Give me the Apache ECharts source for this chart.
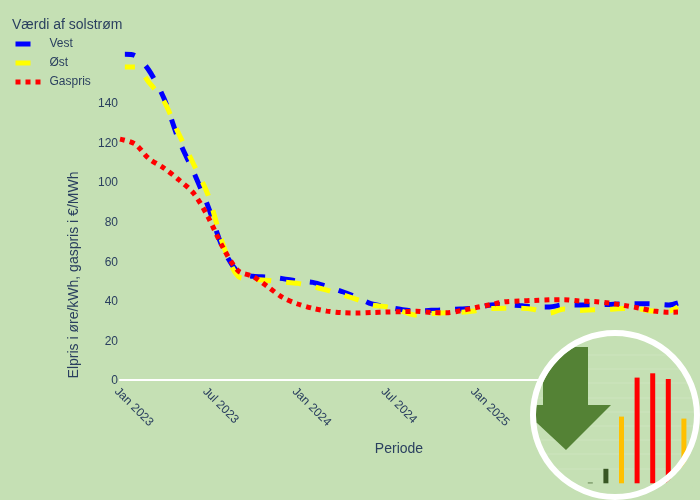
<!DOCTYPE html>
<html>
<head>
<meta charset="utf-8">
<style>html,body{margin:0;padding:0;background:#c5e0b4}</style>
<script src="https://cdn.jsdelivr.net/npm/echarts@6/dist/echarts.min.js"></script>
</head>
<body>
<div id="main" style="width:700px;height:500px"></div>
<script>
var months = ['2023-01-01','2023-02-01','2023-03-01','2023-04-01','2023-05-01','2023-06-01','2023-07-01','2023-08-01','2023-09-01','2023-10-01','2023-11-01','2023-12-01',
  '2024-01-01','2024-02-01','2024-03-01','2024-04-01','2024-05-01','2024-06-01','2024-07-01','2024-08-01','2024-09-01','2024-10-01','2024-11-01','2024-12-01',
  '2025-01-01','2025-02-01','2025-03-01','2025-04-01','2025-05-01','2025-06-01','2025-07-01','2025-08-01','2025-09-01','2025-10-01','2025-11-01','2025-12-01',
  '2026-01-01','2026-02-01','2026-02-20'];
var vest = [164.6,163.9,156.6,142.4,121.7,105.1,87.6,66.2,54.3,52.4,52.0,51.2,
  50.0,49.3,47.2,44.7,41.9,38.4,37.0,35.6,34.8,35.2,35.4,35.9,
  36.4,37.9,38.1,37.6,36.9,36.9,38.0,37.9,37.9,38.2,38.5,38.5,
  38.4,37.9,38.9];
var oest = [158.1,158.1,150.5,140.9,124.7,109.1,93.4,68.2,52.3,51.0,50.3,49.5,
  48.8,47.2,45.4,43.1,40.7,37.9,37.0,34.8,32.8,33.6,34.0,34.2,
  35.0,36.1,36.2,36.2,35.6,33.8,35.9,35.1,35.5,35.7,36.1,35.9,
  34.8,34.8,36.9];
var gas = [121.7,119.2,111.9,107.1,101.3,94.4,82.3,66.7,55.1,52.3,47.0,41.7,
  38.4,36.2,34.8,34.0,33.8,34.1,34.3,34.5,34.7,34.1,34.0,35.0,
  36.6,38.1,39.5,39.9,40.2,40.5,40.6,39.9,39.6,38.9,37.7,36.4,
  34.9,34.2,34.3];
var elStart = '2023-01-11'; // el-linjerne starter lidt efter gas

var xTickDates = ['2023-01-01','2023-07-01','2024-01-01','2024-07-01','2025-01-01'];
var xTickLabels = ['Jan 2023','Jul 2023','Jan 2024','Jul 2024','Jan 2025'];
var yTicks = [0,20,40,60,80,100,120,140];

// lille billede nederst til hoejre
var insetCats = ['a','b','c','d','e','f','g'];
var insetValues = [0.7,14.5,66.7,105.7,110,104.3,64.7];
var insetColors = ['#385723','#385723','#ffc000','#ff0000','#ff0000','#ff0000','#ffc000'];
var insetGridRows = [355,369,383,398,412,426,440,454,469];

var bg = '#c5e0b4', ink = '#2a3f5f', font = 'Liberation Sans';
var cx = 615, cy = 415, rIn = 79;

function ms(d){ return new Date(d).getTime(); }
function pairs(dates, values){
  return values.map(function(v, i){ return [ms(dates[i]), v]; });
}
var elDates = [elStart].concat(months.slice(1));
var xTickValues = xTickDates.map(ms);

// pil klippet af cirklen
function arc(a0, a1){
  var pts = [];
  for (var i = 0; i <= 24; i++){
    var a = a0 + (a1 - a0) * i / 24;
    pts.push([cx + rIn * Math.cos(a), cy + rIn * Math.sin(a)]);
  }
  return pts;
}
function angle(x, y){ return Math.atan2(y - cy, x - cx); }
function norm(a){ return a < 0 ? a + 2 * Math.PI : a; }
var arrow = [[588,347],[588,405],[611,405],[566,450],[537,423]]
  .concat(arc(norm(angle(537,423)), norm(angle(536.3,405))))
  .concat([[543,405],[543,382.2]])
  .concat(arc(norm(angle(543,382.2)), norm(angle(575,347))));

var graphics = [
  {type:'circle', z:10, silent:true, shape:{cx:cx, cy:cy, r:82}, style:{fill:bg}},
  {type:'polygon', z:25, silent:true, shape:{points:arrow}, style:{fill:'#548235'}},
  {type:'sector', z:29, silent:true, shape:{cx:cx, cy:cy, r0:85, r:106, startAngle:0, endAngle:Math.PI/2}, style:{fill:bg}},
  {type:'circle', z:30, silent:true, shape:{cx:cx, cy:cy, r:82}, style:{fill:null, stroke:'#ffffff', lineWidth:6}},
  {type:'text', z:5, silent:true, rotation:Math.PI/2, x:74, y:275,
    style:{text:'Elpris i øre/kWh, gaspris i €/MWh', fill:ink, font:'14px "Liberation Sans"', align:'center', verticalAlign:'middle'}}
];
insetGridRows.forEach(function(y){
  var dx = Math.sqrt(rIn * rIn - (y - cy) * (y - cy));
  graphics.push({type:'line', z:11, silent:true, shape:{x1:cx - dx, y1:y, x2:cx + dx, y2:y}, style:{stroke:'#cde4be', lineWidth:1}});
});

var myChart = echarts.init(document.getElementById('main'));

var option = {
  animation: false,
  backgroundColor: bg,
  textStyle: {fontFamily: font},
  title: {
    text: 'Værdi af solstrøm', left: 7, top: 13,
    textStyle: {fontFamily: font, fontSize: 14, fontWeight: 'normal', color: ink}
  },
  legend: {
    orient: 'vertical', left: 13, top: 38,
    itemWidth: 25, itemHeight: 14, itemGap: 7, padding: 0,
    data: ['Vest','Øst','Gaspris'],
    lineStyle: {width: 5, dashOffset: 0},
    itemStyle: {opacity: 0},
    textStyle: {fontFamily: font, fontSize: 12, color: ink, padding: [0,0,0,4]}
  },
  grid: [
    {left: 120, right: 22, top: 50, bottom: 120},
    {left: 582.5, width: 109.2, top: 363.3, height: 120}
  ],
  xAxis: [
    {
      type: 'value', gridIndex: 0,
      min: ms('2023-01-01'), max: ms('2026-02-20'), scale: true,
      name: 'Periode', nameLocation: 'middle', nameGap: 62,
      nameTextStyle: {fontFamily: font, fontSize: 14, color: ink},
      axisLine: {show: true, onZero: true, lineStyle: {color: '#ffffff', width: 2}},
      axisTick: {show: false},
      splitLine: {show: false},
      axisLabel: {
        rotate: -45, margin: 6,
        hideOverlap: false, showMinLabel: true,
        customValues: xTickValues,
        rich: {t: {fontSize: 12, color: ink, fontFamily: font, padding: [10,0,0,0]}},
        formatter: function(value){
          var i = xTickValues.indexOf(value);
          return i < 0 ? '' : '{t|' + xTickLabels[i] + '}';
        }
      }
    },
    {
      type: 'category', gridIndex: 1, data: insetCats,
      axisLine: {show: false}, axisTick: {show: false}, axisLabel: {show: false}
    }
  ],
  yAxis: [
    {
      type: 'value', gridIndex: 0, min: 0, max: 166.7, interval: 20,
      axisLine: {show: false}, axisTick: {show: false}, splitLine: {show: false},
      axisLabel: {
        margin: 2, customValues: yTicks,
        rich: {v: {fontSize: 12, color: ink, fontFamily: font, padding: [2,0,0,0]}},
        formatter: '{v|{value}}'
      }
    },
    {
      type: 'value', gridIndex: 1, min: 0, max: 120,
      axisLine: {show: false}, axisTick: {show: false}, axisLabel: {show: false}, splitLine: {show: false}
    }
  ],
  series: [
    {
      name: 'Vest', type: 'line', xAxisIndex: 0, yAxisIndex: 0, smooth: 0.3, showSymbol: false, symbol: 'none',
      lineStyle: {color: '#0000ff', width: 5, type: [15,15], dashOffset: 5, cap: 'butt'},
      itemStyle: {color: '#0000ff'},
      data: pairs(elDates, vest)
    },
    {
      name: 'Øst', type: 'line', xAxisIndex: 0, yAxisIndex: 0, smooth: 0.3, showSymbol: false, symbol: 'none',
      lineStyle: {color: '#ffff00', width: 5, type: [15,15], dashOffset: 5, cap: 'butt'},
      itemStyle: {color: '#ffff00'},
      data: pairs(elDates, oest)
    },
    {
      name: 'Gaspris', type: 'line', xAxisIndex: 0, yAxisIndex: 0, smooth: 0.3, showSymbol: false, symbol: 'none',
      lineStyle: {color: '#ff0000', width: 5, type: [5,5], cap: 'butt'},
      itemStyle: {color: '#ff0000'},
      data: pairs(months, gas)
    },
    {
      type: 'bar', xAxisIndex: 1, yAxisIndex: 1, z: 20, barWidth: 5, silent: true,
      data: insetValues.map(function(v, i){ return {value: v, itemStyle: {color: insetColors[i]}}; })
    }
  ],
  graphic: graphics
};

myChart.setOption(option);
</script>
</body>
</html>
